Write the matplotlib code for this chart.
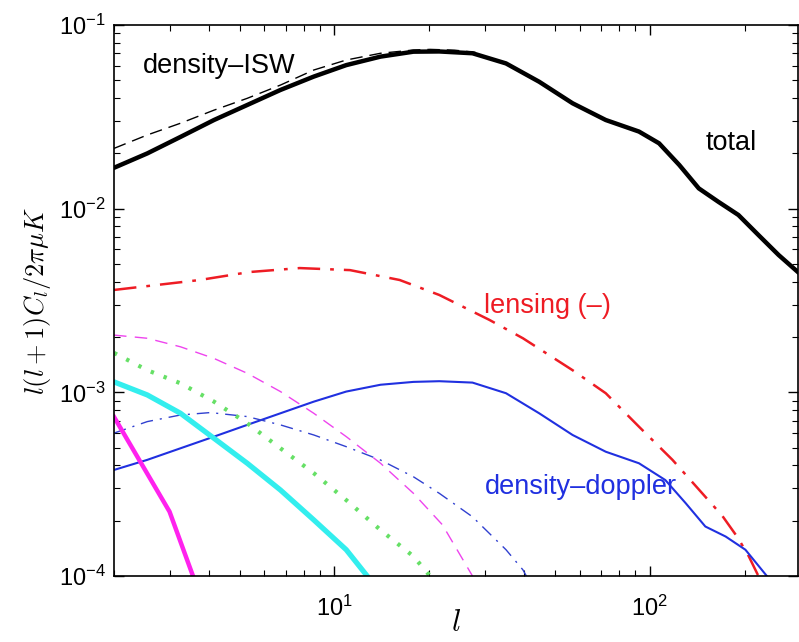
import numpy as np
import matplotlib
matplotlib.use("Agg")
import matplotlib.pyplot as plt

plt.rcParams['font.family'] = ['Liberation Sans', 'DejaVu Sans']
plt.rcParams['mathtext.fontset'] = 'custom'
plt.rcParams['mathtext.rm'] = 'Liberation Sans'
plt.rcParams['mathtext.it'] = 'Liberation Sans:italic'

# total (thick black)
l_total = [2, 2.55, 3.25, 4.15, 5.29, 6.74, 8.6, 10.9, 14.0, 17.8, 21.5, 27.4,
           35.0, 44.6, 56.9, 72.5, 92.4, 107, 124, 143, 165, 191, 221, 256, 294]
cl_total = [0.0167, 0.0200, 0.0246, 0.0304, 0.0367, 0.0443, 0.0524, 0.0605, 0.0673,
            0.0716, 0.0718, 0.0702, 0.0618, 0.0491, 0.0375, 0.0304, 0.0263, 0.0227,
            0.0173, 0.0129, 0.0109, 0.00924, 0.00719, 0.0056, 0.00454]

# density-ISW (thin dashed black)
l_isw = [2, 2.55, 3.25, 4.15, 5.29, 6.74, 8.6, 10.9, 14.0, 17.8, 20.1, 24.0, 28.0]
cl_isw = [0.0213, 0.0252, 0.0292, 0.0344, 0.0399, 0.0471, 0.0569, 0.0645, 0.0702,
          0.0731, 0.0737, 0.0730, 0.0710]

# lensing (-) (red dash-dot)
l_lens = [2, 3.74, 5.38, 7.76, 11.2, 16.1, 21.5, 31.0, 39.6, 56.9, 72.5, 92.4,
          118, 150, 170, 190, 206, 221]
cl_lens = [0.00361, 0.00409, 0.00452, 0.00475, 0.00463, 0.00409, 0.00339, 0.00248,
           0.00197, 0.00132, 0.000989, 0.00065, 0.000429, 0.00027, 0.000212,
           0.000162, 0.000128, 0.0001]

# density-doppler (blue solid)
l_dop = [2, 2.55, 3.25, 4.15, 5.29, 6.74, 8.6, 10.9, 14.0, 17.8, 21.5, 27.4, 35.0,
         44.6, 56.9, 72.5, 92.4, 112, 130, 150, 174, 201, 235]
cl_dop = [0.000378, 0.000429, 0.000496, 0.000574, 0.000665, 0.000769, 0.00089,
          0.00101, 0.0011, 0.00114, 0.00115, 0.00113, 0.000989, 0.000769, 0.000586,
          0.000475, 0.000411, 0.000333, 0.000249, 0.000186, 0.000164, 0.000139, 0.0001]

# thin magenta dashed
l_md = [2, 2.55, 3.25, 4.15, 5.29, 6.74, 8.6, 10.9, 14.0, 17.8, 22.0, 27.4]
cl_md = [0.00205, 0.00197, 0.00177, 0.00153, 0.00127, 0.00101, 0.000769, 0.000574,
         0.000411, 0.000282, 0.00019, 0.0001]

# thin blue dash-dot
l_bdd = [2, 2.55, 3.25, 4.04, 5.29, 6.74, 8.6, 10.9, 14.0, 17.8, 21.5, 27.4, 35.0,
         39.6, 40.6]
cl_bdd = [0.0006, 0.000693, 0.000753, 0.000776, 0.000738, 0.000665, 0.000586,
          0.000506, 0.000428, 0.000347, 0.000282, 0.00021, 0.000139, 0.000108, 0.0001]

# green dotted
l_gr = [2, 2.55, 3.25, 4.15, 5.29, 6.74, 8.6, 10.9, 14.0, 17.8, 20.1]
cl_gr = [0.00164, 0.00132, 0.00112, 0.00089, 0.000679, 0.000496, 0.000363,
         0.000259, 0.000178, 0.000128, 0.0001]

# cyan thick
l_cy = [2, 2.55, 3.25, 4.15, 5.29, 6.74, 8.6, 10.9, 12.7]
cl_cy = [0.00114, 0.000968, 0.000769, 0.000562, 0.000411, 0.000294, 0.000202,
         0.000139, 0.0001]

# magenta thick
l_mg = [2, 3, 4]
cl_mg = [0.000735, 0.000224, 0.0000577]

fig = plt.figure(figsize=(7.99, 6.42), dpi=100)
ax = fig.add_axes([0.1427, 0.1028, 0.8560, 0.8582])

ax.plot(l_isw, cl_isw, color='black', lw=1.0, ls=(0, (9, 5)))
ax.plot(l_total, cl_total, color='black', lw=3.2)
ax.plot(l_lens, cl_lens, color='#ee1c24', lw=1.8, ls=(0, (9, 4, 1.5, 4)))
ax.plot(l_dop, cl_dop, color='#2030e0', lw=1.5)
ax.plot(l_md, cl_md, color='#ee44ee', lw=1.0, ls=(0, (9, 6)))
ax.plot(l_bdd, cl_bdd, color='#3040d0', lw=1.0, ls=(0, (9, 5, 1.5, 5)))
ax.plot(l_gr, cl_gr, color='#66e066', lw=3.0, ls=(0, (0.8, 2.5)))
ax.plot(l_cy, cl_cy, color='#33eeee', lw=3.8)
ax.plot(l_mg, cl_mg, color='#ff22ee', lw=3.2)

ax.set_xscale('log')
ax.set_yscale('log')
ax.set_xlim(2, 295)
ax.set_ylim(1e-4, 1e-1)

ax.tick_params(which='both', direction='in', top=True, right=True, labelsize=17)
ax.tick_params(which='major', length=7, width=1.0)
ax.tick_params(which='minor', length=4, width=0.8)
ax.tick_params(axis='x', pad=14)
ax.tick_params(axis='y', pad=6)
for s in ax.spines.values():
    s.set_linewidth(1.2)

ax.set_xlabel(r'$l$', fontsize=22, math_fontfamily='cm', labelpad=-9)
ax.set_ylabel(r'$l(l+1)C_l/2\pi\mu K$', fontsize=19, math_fontfamily='cm', labelpad=4)

ax.text(2.47, 0.0598, 'density\u2013ISW', fontsize=19.5, color='black', va='center')
ax.text(150, 0.0228, 'total', fontsize=19.5, color='black', va='center')
ax.text(29.9, 0.00295, 'lensing (\u2013)', fontsize=19.5, color='#ee1c24', va='center')
ax.text(29.9, 0.000305, 'density\u2013doppler', fontsize=19.5, color='#2030e0', va='center')

fig.savefig('out.png', dpi=100)
